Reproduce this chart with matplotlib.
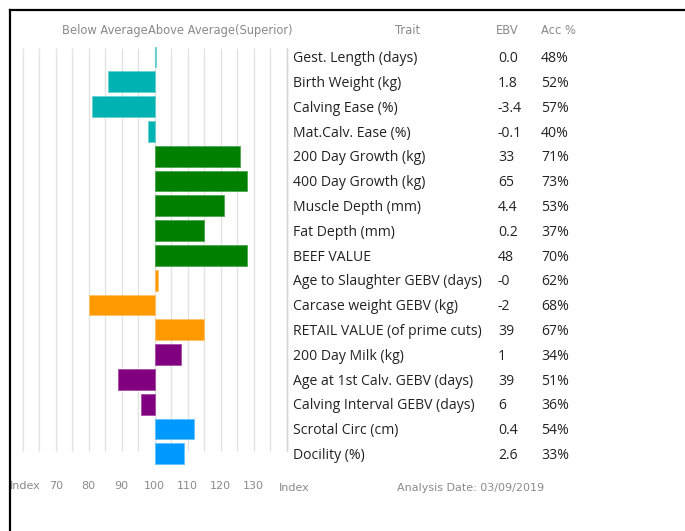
import numpy as np
import matplotlib
matplotlib.use("Agg")
import matplotlib.pyplot as plt

# chart data
traits = ["Gest. Length (days)", "Birth Weight (kg)", "Calving Ease (%)",
          "Mat.Calv. Ease (%)", "200 Day Growth (kg)", "400 Day Growth (kg)",
          "Muscle Depth (mm)", "Fat Depth (mm)", "BEEF VALUE",
          "Age to Slaughter GEBV (days)", "Carcase weight GEBV (kg)",
          "RETAIL VALUE (of prime cuts)", "200 Day Milk (kg)",
          "Age at 1st Calv. GEBV (days)", "Calving Interval GEBV (days)",
          "Scrotal Circ (cm)", "Docility (%)"]
ebv = ["0.0", "1.8", "-3.4", "-0.1", "33", "65", "4.4", "0.2", "48", "-0",
       "-2", "39", "1", "39", "6", "0.4", "2.6"]
acc = ["48%", "52%", "57%", "40%", "71%", "73%", "53%", "37%", "70%", "62%",
       "68%", "67%", "34%", "51%", "36%", "54%", "33%"]
index = [100.4, 86, 81, 98, 126, 128, 121, 115, 128, 101, 80, 115, 108, 89, 96, 112, 109]
groups = ["calving"] * 4 + ["growth"] * 5 + ["carcase"] * 3 + ["maternal"] * 3 + ["other"] * 2
tick_vals = [70, 80, 90, 100, 110, 120, 130]

colours = {"calving": "#00b2b2", "growth": "#008000", "carcase": "#ff9900",
           "maternal": "#800080", "other": "#0099ff"}
edges = {"calving": "#66d1d1", "growth": "#4da64d", "carcase": "#ffc266",
         "maternal": "#a64da6", "other": "#66c2ff"}

fig = plt.figure(figsize=(6.85, 5.31), dpi=100)
ax = fig.add_axes([0, 0, 1, 1])

# map pixels: 100 -> x=154.7, 3.3 px per unit; row i centre at y=57+24.8*i
px = 3.3
x0 = 100 - 154.7 / px
ax.set_xlim(x0, x0 + 685 / px)
ax.set_ylim((531 - 57) / 24.8, -57 / 24.8)
ax.axis("off")

def xd(p):
    return x0 + p / px

rows = np.arange(len(traits))

# grid
ax.vlines(np.arange(60, 141, 5), -0.38, 15.9, color="#e3e3e3", lw=1, zorder=0)
ax.vlines([140], -0.38, 15.9, color="#d5d5d5", lw=1, zorder=0)

vals = np.array(index) - 100
ax.barh(rows, vals, left=100, height=0.84,
        color=[colours[g] for g in groups],
        edgecolor=[edges[g] for g in groups], linewidth=0.6, zorder=2)

tfont = "Open Sans"
for i in rows:
    y = i + 0.07
    ax.text(xd(293), y, traits[i], fontsize=10.1, family=tfont, va="center", color="#222222")
    ax.text(xd(498), y, ebv[i], fontsize=10.1, family=tfont, va="center", color="#222222")
    ax.text(xd(541), y, acc[i], fontsize=10.1, family=tfont, va="center", color="#222222")

# header
hy = (31 - 57) / 24.8
grey = "#8a8a8a"
ax.text(xd(148), hy, "Below Average", ha="right", va="center", fontsize=8.3, color=grey)
ax.text(xd(148), hy, "Above Average(Superior)", ha="left", va="center", fontsize=8.3, color=grey)
ax.text(xd(408), hy, "Trait", ha="center", va="center", fontsize=8.3, color=grey)
ax.text(xd(507), hy, "EBV", ha="center", va="center", fontsize=8.3, color=grey)
ax.text(xd(558), hy, "Acc %", ha="center", va="center", fontsize=8.3, color=grey)

# bottom axis labels
by = (486 - 57) / 24.8
for t in tick_vals:
    ax.text(t, by, str(t), ha="center", va="center", fontsize=8, color=grey)
ax.text(xd(25), by, "Index", ha="center", va="center", fontsize=8, color=grey)
ax.text(xd(294), by + 0.08, "Index", ha="center", va="center", fontsize=8, color=grey)
ax.text(xd(471), by + 0.08, "Analysis Date: 03/09/2019", ha="center", va="center",
        fontsize=8, color=grey)

# frame lines top and left
fig.add_artist(plt.Line2D([10 / 685, 1], [1 - 10 / 531, 1 - 10 / 531], color="black", lw=1.6))
fig.add_artist(plt.Line2D([10 / 685, 10 / 685], [0, 1 - 10 / 531], color="black", lw=1.6))

fig.savefig("out.png", dpi=100, facecolor="white")
